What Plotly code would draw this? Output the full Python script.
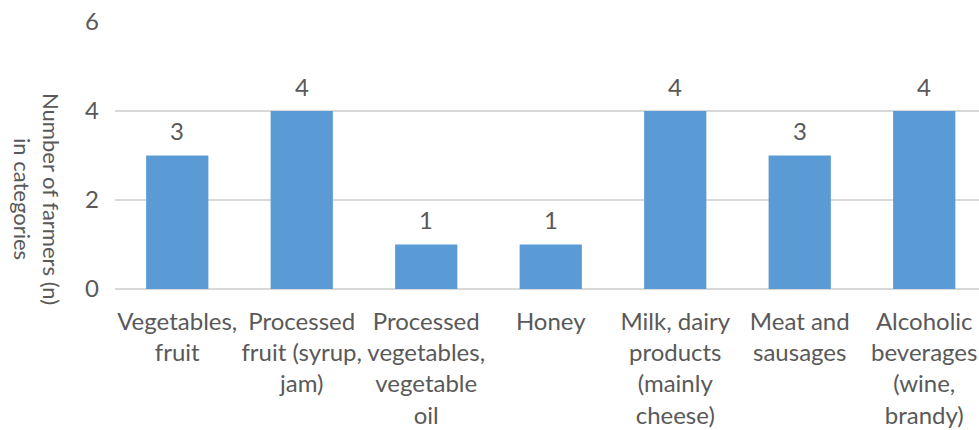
import plotly.graph_objects as go

categories = [
    "Vegetables,<br>fruit",
    "Processed<br>fruit (syrup,<br>jam)",
    "Processed<br>vegetables,<br>vegetable<br>oil",
    "Honey",
    "Milk, dairy<br>products<br>(mainly<br>cheese)",
    "Meat and<br>sausages",
    "Alcoholic<br>beverages<br>(wine,<br>brandy)",
]
values = [3, 4, 1, 1, 4, 3, 4]
y_ticks = [0, 2, 4, 6]

FONT = "Lato"
GREY = "#595959"

xs = list(range(len(categories)))

fig = go.Figure()
fig.add_trace(go.Bar(
    x=xs,
    y=values,
    width=0.5,
    marker=dict(color="#5B9BD5", line=dict(width=0)),
))

annotations = [
    dict(x=x, y=v, xref="x", yref="y", text=str(v), showarrow=False,
         yanchor="middle", yshift=25,
         font=dict(family=FONT, size=24, color=GREY))
    for x, v in zip(xs, values)
]
annotations.append(dict(
    text="Number of farmers (n)<br>in categories",
    xref="paper", yref="paper",
    x=-78 / 864, xanchor="center",
    y=(289 - 199) / 267, yanchor="middle",
    textangle=90, showarrow=False,
    font=dict(family=FONT, size=22, color=GREY),
))

fig.update_layout(
    width=979, height=430,
    margin=dict(l=115, r=0, t=22, b=141),
    plot_bgcolor="white", paper_bgcolor="white",
    showlegend=False,
    font=dict(family=FONT, size=24, color=GREY),
    xaxis=dict(
        tickmode="array",
        tickvals=xs,
        ticktext=categories,
        range=[-0.5, 6.44],
        showgrid=False, zeroline=False, showline=False,
        ticks="", ticklabelstandoff=16,
        tickfont=dict(family=FONT, size=24, color=GREY),
    ),
    yaxis=dict(
        range=[0, 6],
        tickmode="array",
        tickvals=y_ticks,
        showgrid=True, gridcolor="#D9D9D9", gridwidth=1.5,
        zeroline=True, zerolinecolor="#D9D9D9", zerolinewidth=1.5,
        showline=False, ticks="", ticklabelstandoff=15,
        tickfont=dict(family=FONT, size=24, color=GREY),
    ),
    annotations=annotations,
)

fig.write_html("out.html")
